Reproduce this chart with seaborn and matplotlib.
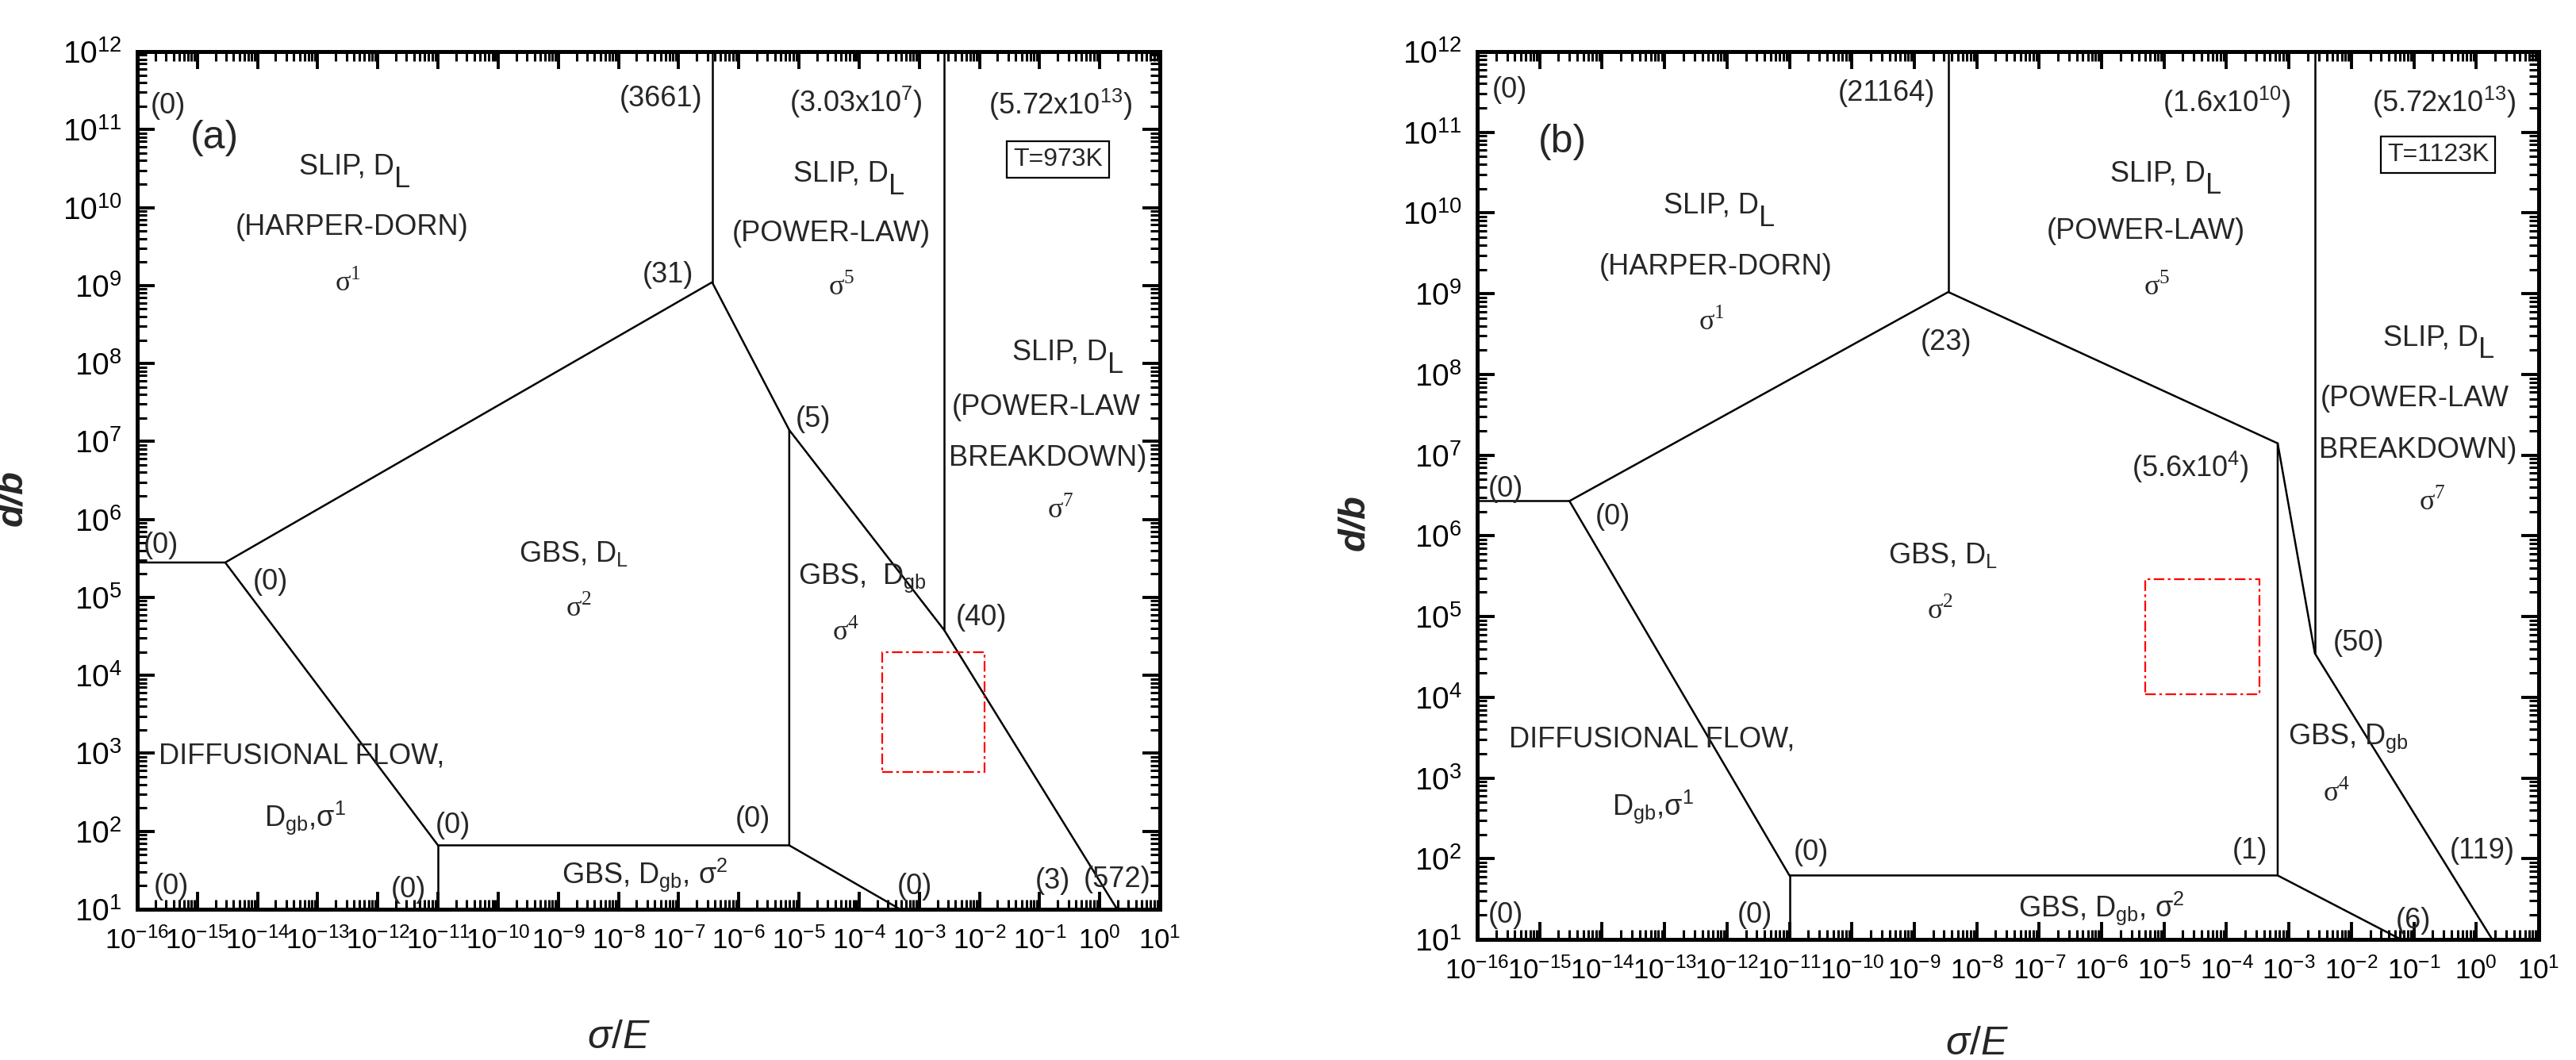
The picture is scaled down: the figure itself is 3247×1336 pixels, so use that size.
import numpy as np
import pandas as pd
import matplotlib
matplotlib.use("Agg")
import matplotlib.pyplot as plt
from matplotlib.ticker import LogLocator, NullFormatter
import seaborn as sns

# ── Mechanism-map boundaries, (sigma/E, d/b) ──
# panel (a), T = 973 K
a_nodes = {
    "A0": (1e-16, 2.8e5), "A": (2.9e-15, 2.8e5),
    "B": (3.6e-7, 1.1e9), "Btop": (3.6e-7, 1e12),
    "C": (6.9e-6, 1.4e7), "D": (6.9e-6, 66),
    "E": (2.6e-3, 3.8e4), "Etop": (2.6e-3, 1e12),
    "F": (1.95, 10), "G": (4.8e-4, 10),
    "H": (1e-11, 66), "Hbot": (1e-11, 10),
}
# panel (b), T = 1123 K
b_nodes = {
    "A0": (1e-16, 2.7e6), "A": (3.0e-15, 2.7e6),
    "B": (3.5e-9, 1.05e9), "Btop": (3.5e-9, 1e12),
    "C": (6.6e-4, 1.4e7), "D": (6.6e-4, 62),
    "E": (2.6e-3, 3.5e4), "Etop": (2.6e-3, 1e12),
    "F": (1.8, 10), "G": (6.2e-2, 10),
    "H": (1e-11, 62), "Hbot": (1e-11, 10),
}
paths = [["A0", "A", "B", "C", "E", "F"], ["B", "Btop"], ["E", "Etop"],
         ["C", "D", "G"], ["D", "H", "A"], ["H", "Hbot"]]

# red dash-dot boxes (x range, y range)
a_box_x, a_box_y = (2.4e-4, 1.2e-2), (5.8e2, 2.0e4)
b_box_x, b_box_y = (5.0e-6, 3.4e-4), (1.1e4, 2.9e5)

# ── Text on the maps: (log10 x, log10 y, text) ───────────
a_text = [
    (-15.49, 11.30, "(0)"), (-7.29, 11.39, "(3661)"),
    (-4.05, 11.35, r"(3.03x10$^\mathregular{7}$)"),
    (-0.65, 11.32, r"(5.72x10$^\mathregular{13}$)"),
    (-12.43, 9.75, "(HARPER-DORN)"), (-4.46, 9.66, "(POWER-LAW)"),
    (-0.89, 7.44, "(POWER-LAW"), (-0.86, 6.78, "BREAKDOWN)"),
    (-7.18, 9.14, "(31)"), (-4.77, 7.28, "(5)"),
    (-15.60, 5.67, "(0)"), (-13.79, 5.20, "(0)"),
    (-13.27, 2.96, "DIFFUSIONAL FLOW,"),
    (-13.21, 2.17, r"D$_\mathregular{gb}$,σ$^\mathregular{1}$"),
    (-10.75, 2.07, "(0)"), (-15.43, 1.29, "(0)"), (-11.49, 1.25, "(0)"),
    (-5.77, 2.15, "(0)"), (-1.97, 4.74, "(40)"), (-3.08, 1.29, "(0)"),
    (-0.78, 1.36, "(3)"), (0.29, 1.38, "(572)"),
    (-8.74, 5.56, r"GBS, D$_\mathregular{L}$"),
    (-3.95, 5.25, r"GBS,  D$_\mathregular{gb}$"),
    (-7.56, 1.44, r"GBS, D$_\mathregular{gb}$, σ$^\mathregular{2}$"),
]
a_slip = [(-12.37, 10.52), (-4.16, 10.43), (-0.52, 8.14)]
a_sigma = [(-12.50, 9.03, "1"), (-4.29, 8.98, "5"), (-0.65, 6.12, "7"),
           (-8.66, 4.85, "2"), (-4.22, 4.55, "4")]
a_tag, a_temp = (-14.72, 10.89, "(a)"), (-0.69, 10.62, "T=973K")

b_text = [
    (-15.48, 11.52, "(0)"), (-9.44, 11.48, "(21164)"),
    (-3.99, 11.37, r"(1.6x10$^\mathregular{10}$)"),
    (-0.52, 11.37, r"(5.72x10$^\mathregular{13}$)"),
    (-12.18, 9.33, "(HARPER-DORN)"), (-5.29, 9.77, "(POWER-LAW)"),
    (-8.49, 8.40, "(23)"), (-4.58, 6.85, r"(5.6x10$^\mathregular{4}$)"),
    (-0.98, 7.70, "(POWER-LAW"), (-0.94, 7.06, "BREAKDOWN)"),
    (-15.54, 6.58, "(0)"), (-13.83, 6.23, "(0)"),
    (-13.20, 3.48, "DIFFUSIONAL FLOW,"),
    (-13.18, 2.64, r"D$_\mathregular{gb}$,σ$^\mathregular{1}$"),
    (-10.65, 2.08, "(0)"), (-15.54, 1.30, "(0)"), (-11.55, 1.30, "(0)"),
    (-6.00, 1.39, r"GBS, D$_\mathregular{gb}$, σ$^\mathregular{2}$"),
    (-3.62, 2.10, "(1)"), (-2.05, 3.49, r"GBS, D$_\mathregular{gb}$"),
    (-1.88, 4.67, "(50)"), (0.10, 2.10, "(119)"), (-1.01, 1.23, "(6)"),
    (-8.54, 5.76, r"GBS, D$_\mathregular{L}$"),
]
b_slip = [(-12.11, 10.09), (-4.96, 10.49), (-0.59, 8.45)]
b_sigma = [(-12.24, 8.65, "1"), (-5.12, 9.08, "5"), (-0.71, 6.41, "7"),
           (-8.58, 5.07, "2"), (-2.24, 2.81, "4")]
b_tag, b_temp = (-14.64, 10.88, "(b)"), (-0.61, 10.72, "T=1123K")

# ── Style ────────────────────────────────────────────────
sns.set_theme(style="ticks")
plt.rcParams["font.family"] = ["Liberation Sans", "DejaVu Sans"]
plt.rcParams["mathtext.fontset"] = "custom"
plt.rcParams["mathtext.rm"] = "Liberation Sans"
plt.rcParams["mathtext.it"] = "Liberation Sans:italic"
plt.rcParams["mathtext.bf"] = "Liberation Sans:bold"
plt.rcParams["axes.unicode_minus"] = False

FS = 13


def draw_panel(ax, nodes, texts, slips, sigmas, tag, temp, box_x, box_y,
               xlab_y, ylab_x, ylab_y):
    ax.set_xscale("log")
    ax.set_yscale("log")

    rows = []
    for i, p in enumerate(paths):
        for name in p:
            rows.append({"seg": i, "x": nodes[name][0], "y": nodes[name][1]})
    df = pd.DataFrame(rows)
    sns.lineplot(data=df, x="x", y="y", units="seg", estimator=None,
                 sort=False, color="black", lw=0.9, ax=ax, legend=False)

    bx = [box_x[0], box_x[1], box_x[1], box_x[0], box_x[0]]
    by = [box_y[0], box_y[0], box_y[1], box_y[1], box_y[0]]
    ax.plot(bx, by, color="red", lw=0.8, ls=(0, (6, 2, 1.5, 2)))

    for x, y, s in texts:
        ax.text(10**x, 10**y, s, ha="center", va="center", fontsize=FS)
    for x, y in slips:
        t = ax.annotate("SLIP, D", xy=(10**x, 10**y), xytext=(-4, 0),
                        textcoords="offset points", ha="center",
                        va="center", fontsize=FS)
        ax.annotate("L", xy=(1, 0.05), xycoords=t, ha="left", va="center",
                    fontsize=FS)
    for x, y, n in sigmas:
        ax.text(10**x, 10**y, "σ$^\\mathregular{%s}$" % n, ha="center",
                va="center", fontsize=FS, family="Liberation Serif")
    ax.text(10**tag[0], 10**tag[1], tag[2], ha="center", va="center",
            fontsize=18)
    ax.text(10**temp[0], 10**temp[1], temp[2], ha="center", va="center",
            fontsize=11.5,
            bbox=dict(boxstyle="square,pad=0.25", fc="white", ec="black",
                      lw=0.8))

    ax.set_xlim(1e-16, 10)
    ax.set_ylim(10, 1e12)
    ax.xaxis.set_major_locator(LogLocator(base=10, numticks=40))
    ax.yaxis.set_major_locator(LogLocator(base=10, numticks=40))
    for axis in (ax.xaxis, ax.yaxis):
        axis.set_minor_locator(LogLocator(base=10, subs=np.arange(2, 10),
                                          numticks=400))
        axis.set_minor_formatter(NullFormatter())
    ax.tick_params(which="both", direction="in", top=True, right=True,
                   colors="black")
    ax.tick_params(which="major", length=7.8, width=1.4, pad=7)
    ax.tick_params(which="minor", length=4.2, width=1.1)
    ax.tick_params(axis="x", labelsize=12.5, pad=8)
    ax.tick_params(axis="y", labelsize=14)
    for sp in ax.spines.values():
        sp.set_linewidth(1.8)
        sp.set_color("black")

    ax.set_xlabel(r"$\sigma/E$", fontsize=18)
    ax.xaxis.set_label_coords(0.471, xlab_y)
    ax.set_ylabel("d/b", fontsize=17, style="italic", weight="bold")
    ax.yaxis.set_label_coords(ylab_x, ylab_y)


W, H = 3247, 1336
fig = plt.figure(figsize=(W / 200, H / 200), dpi=200)
ax_a = fig.add_axes([173 / W, (H - 1146) / H, 1289 / W, 1081 / H])
ax_b = fig.add_axes([1862 / W, (H - 1184) / H, 1338 / W, 1119 / H])

draw_panel(ax_a, a_nodes, a_text, a_slip, a_sigma, a_tag, a_temp,
           a_box_x, a_box_y, -0.129, -0.105, 0.48)
draw_panel(ax_b, b_nodes, b_text, b_slip, b_sigma, b_tag, b_temp,
           b_box_x, b_box_y, -0.097, -0.099, 0.47)

fig.savefig("out.png", dpi=200, facecolor="white")
